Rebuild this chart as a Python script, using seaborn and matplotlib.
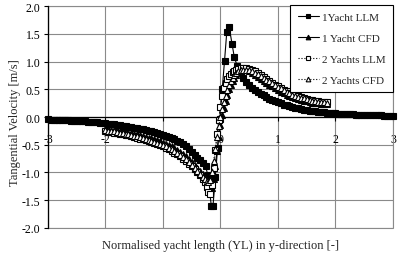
import matplotlib
matplotlib.use("Agg")
import matplotlib.pyplot as plt
from matplotlib.patches import Rectangle
from matplotlib.ticker import FormatStrFormatter
import seaborn as sns

# values: normalised yacht length vs tangential velocity [m/s]
x_one = [-3.00, -2.95, -2.90, -2.85, -2.80, -2.75, -2.70, -2.65, -2.60, -2.55,
         -2.50, -2.45, -2.40, -2.35, -2.30, -2.25, -2.20, -2.15, -2.10, -2.05,
         -2.00, -1.95, -1.90, -1.85, -1.80, -1.75, -1.70, -1.65, -1.60, -1.55,
         -1.50, -1.45, -1.40, -1.35, -1.30, -1.25, -1.20, -1.15, -1.10, -1.05,
         -1.00, -0.95, -0.90, -0.85, -0.80, -0.75, -0.70, -0.65, -0.60, -0.55,
         -0.50, -0.45, -0.40, -0.35, -0.30,
         -0.26, -0.22, -0.19, -0.16, -0.13, -0.09, -0.05, -0.01, 0.03, 0.07,
         0.11, 0.15, 0.20, 0.24, 0.29,
         0.35, 0.40, 0.45, 0.50, 0.55, 0.60, 0.65, 0.70, 0.75, 0.80,
         0.85, 0.90, 0.95, 1.00, 1.05, 1.10, 1.15, 1.20, 1.25, 1.30,
         1.35, 1.40, 1.45, 1.50, 1.55, 1.60, 1.65, 1.70, 1.75, 1.80,
         1.85, 1.90, 1.95, 2.00, 2.05, 2.10, 2.15, 2.20, 2.25, 2.30,
         2.35, 2.40, 2.45, 2.50, 2.55, 2.60, 2.65, 2.70, 2.75, 2.80,
         2.85, 2.90, 2.95, 3.00]
llm_one = [-0.045, -0.047, -0.049, -0.051, -0.053, -0.055, -0.058, -0.061, -0.064, -0.067,
           -0.070, -0.073, -0.077, -0.081, -0.085, -0.089, -0.094, -0.099, -0.104, -0.109,
           -0.115, -0.121, -0.127, -0.134, -0.141, -0.148, -0.156, -0.164, -0.172, -0.181,
           -0.190, -0.199, -0.209, -0.220, -0.232, -0.245, -0.258, -0.272, -0.287, -0.303,
           -0.320, -0.338, -0.357, -0.378, -0.401, -0.425, -0.455, -0.490, -0.530, -0.580,
           -0.630, -0.680, -0.730, -0.780, -0.830,
           -0.880, -1.050, -1.330, -1.600, -1.600, -1.080, -0.550, -0.030, 0.500, 1.010,
           1.540, 1.630, 1.320, 1.080, 0.920,
           0.800, 0.710, 0.630, 0.570, 0.520, 0.480, 0.450, 0.420, 0.390, 0.360,
           0.330, 0.310, 0.290, 0.265, 0.245, 0.225, 0.210, 0.195, 0.180, 0.165,
           0.155, 0.145, 0.135, 0.125, 0.117, 0.110, 0.103, 0.097, 0.091, 0.085,
           0.080, 0.075, 0.070, 0.066, 0.062, 0.058, 0.055, 0.052, 0.049, 0.046,
           0.044, 0.042, 0.040, 0.038, 0.036, 0.034, 0.032, 0.031, 0.029, 0.028,
           0.027, 0.026, 0.025, 0.024]

x_two = [-2.00, -1.95, -1.90, -1.85, -1.80, -1.75, -1.70, -1.65, -1.60, -1.55,
         -1.50, -1.45, -1.40, -1.35, -1.30, -1.25, -1.20, -1.15, -1.10, -1.05,
         -1.00, -0.95, -0.90, -0.85, -0.80, -0.75, -0.70, -0.65, -0.60, -0.55,
         -0.50, -0.45, -0.40, -0.35, -0.30,
         -0.27, -0.24, -0.21, -0.18, -0.15, -0.12, -0.09, -0.06, -0.03, 0.00,
         0.03, 0.06, 0.09, 0.12, 0.15, 0.18, 0.21, 0.24, 0.27,
         0.30, 0.35, 0.40, 0.45, 0.50, 0.55, 0.60, 0.65, 0.70, 0.75,
         0.80, 0.85, 0.90, 0.95, 1.00, 1.05, 1.10, 1.15, 1.20, 1.25,
         1.30, 1.35, 1.40, 1.45, 1.50, 1.55, 1.60, 1.65, 1.70, 1.75,
         1.80, 1.85]
cfd_one = [-0.220, -0.225, -0.230, -0.235, -0.240, -0.250, -0.260, -0.270, -0.280, -0.290,
           -0.300, -0.310, -0.325, -0.340, -0.355, -0.370, -0.385, -0.400, -0.420, -0.440,
           -0.460, -0.480, -0.500, -0.530, -0.560, -0.590, -0.630, -0.670, -0.710, -0.760,
           -0.810, -0.860, -0.910, -0.970, -1.030,
           -1.080, -1.150, -1.240, -1.300, -1.280, -1.120, -0.880, -0.620, -0.360, -0.140,
           0.030, 0.160, 0.290, 0.400, 0.500, 0.580, 0.650, 0.710, 0.760,
           0.800, 0.840, 0.860, 0.850, 0.830, 0.800, 0.760, 0.720, 0.680, 0.640,
           0.610, 0.580, 0.550, 0.520, 0.480, 0.450, 0.425, 0.400, 0.375, 0.355,
           0.335, 0.320, 0.305, 0.290, 0.280, 0.270, 0.260, 0.250, 0.245, 0.240,
           0.235, 0.230]
llm_two = [-0.260, -0.265, -0.270, -0.280, -0.290, -0.300, -0.310, -0.320, -0.330, -0.345,
           -0.360, -0.375, -0.390, -0.405, -0.420, -0.435, -0.450, -0.470, -0.490, -0.510,
           -0.530, -0.555, -0.580, -0.610, -0.640, -0.670, -0.710, -0.750, -0.790, -0.840,
           -0.890, -0.940, -0.990, -1.050, -1.110,
           -1.170, -1.260, -1.360, -1.380, -1.220, -0.920, -0.600, -0.300, -0.050, 0.180,
           0.380, 0.520, 0.620, 0.690, 0.740, 0.780, 0.810, 0.830, 0.850,
           0.865, 0.880, 0.885, 0.880, 0.865, 0.845, 0.820, 0.790, 0.760, 0.725,
           0.690, 0.655, 0.620, 0.585, 0.550, 0.520, 0.490, 0.460, 0.435, 0.410,
           0.390, 0.370, 0.355, 0.340, 0.325, 0.310, 0.300, 0.290, 0.280, 0.275,
           0.270, 0.265]
cfd_two = [-0.240, -0.245, -0.250, -0.260, -0.270, -0.280, -0.290, -0.300, -0.310, -0.320,
           -0.335, -0.350, -0.365, -0.380, -0.395, -0.410, -0.425, -0.445, -0.465, -0.485,
           -0.505, -0.530, -0.555, -0.585, -0.615, -0.645, -0.685, -0.725, -0.765, -0.815,
           -0.865, -0.915, -0.965, -1.020, -1.080,
           -1.120, -1.160, -1.180, -1.140, -1.000, -0.800, -0.580, -0.360, -0.160, 0.000,
           0.140, 0.270, 0.380, 0.480, 0.570, 0.640, 0.700, 0.750, 0.790,
           0.820, 0.845, 0.855, 0.855, 0.845, 0.830, 0.800, 0.770, 0.740, 0.710,
           0.675, 0.640, 0.610, 0.575, 0.545, 0.515, 0.485, 0.455, 0.430, 0.405,
           0.385, 0.365, 0.350, 0.335, 0.320, 0.305, 0.295, 0.285, 0.275, 0.270,
           0.265, 0.260]

series_names = ["1Yacht LLM", "1 Yacht CFD", "2 Yachts LLM", "2 Yachts CFD"]
x_ticks = [-3, -2, -1, 0, 1, 2, 3]
y_ticks = [-2.0, -1.5, -1.0, -0.5, 0.0, 0.5, 1.0, 1.5, 2.0]

sns.set_theme(style="white")
plt.rcParams["font.family"] = ["Liberation Serif", "DejaVu Serif"]
plt.rcParams["axes.unicode_minus"] = False

fig = plt.figure(figsize=(3.98, 2.55), dpi=100)
ax = fig.add_axes([0.1206, 0.102, 0.8668, 0.8705])

series = [
    (x_one, llm_one, series_names[0], "s", "-", "black", 3.8),
    (x_two, cfd_one, series_names[1], "^", "-", "black", 4.2),
    (x_two, llm_two, series_names[2], "s", ":", "white", 3.8),
    (x_two, cfd_two, series_names[3], "^", ":", "white", 4.2),
]
for xs, ys, name, mk, ls, face, ms in series:
    sns.lineplot(x=xs, y=ys, ax=ax, estimator=None, sort=False, color="black",
                 lw=0.8, linestyle=ls, marker=mk, markersize=ms,
                 markerfacecolor=face, markeredgecolor="black",
                 markeredgewidth=0.8, label=name, zorder=3, clip_on=False)

ax.set_xlim(-3, 3)
ax.set_ylim(-2, 2)
ax.set_xticks(x_ticks)
ax.set_xticklabels([str(t) for t in x_ticks])
ax.set_yticks(y_ticks)
ax.yaxis.set_major_formatter(FormatStrFormatter("%.1f"))
ax.set_axisbelow(True)
ax.grid(True, color="#8a8a8a", lw=0.8)

for side in ["top", "right"]:
    ax.spines[side].set_visible(False)
ax.spines["bottom"].set_position(("data", 0))
ax.spines["bottom"].set_color("black")
ax.spines["bottom"].set_linewidth(0.9)
ax.spines["left"].set_color("black")
ax.spines["left"].set_linewidth(0.9)
ax.add_patch(Rectangle((0, 0), 1, 1, transform=ax.transAxes, fill=False,
                       edgecolor="#8a8a8a", lw=0.8, clip_on=False, zorder=1))

ax.tick_params(axis="x", direction="out", length=3, width=0.8, pad=8.5,
               labelsize=8.5, colors="black", bottom=True)
ax.tick_params(axis="y", direction="out", length=3, width=0.8, pad=2.5,
               labelsize=8.5, colors="black", left=True)

ax.set_xlabel("")
ax.set_ylabel("")
fig.text(0.554, 0.035, "Normalised yacht length (YL) in y-direction [-]",
         ha="center", va="center", fontsize=9)
fig.text(0.038, 0.52, "Tangential Velocity [m/s]", rotation=90,
         ha="center", va="center", fontsize=9)

ax.legend(loc="upper right", bbox_to_anchor=(1.0, 1.005), borderaxespad=0,
          frameon=True, fancybox=False, edgecolor="black", framealpha=1,
          fontsize=8, handlelength=1.9, handletextpad=0.3, labelspacing=1.0,
          borderpad=0.65, markerscale=0.8)
ax.get_legend().get_frame().set_linewidth(0.8)

fig.savefig("out.png", dpi=100)
